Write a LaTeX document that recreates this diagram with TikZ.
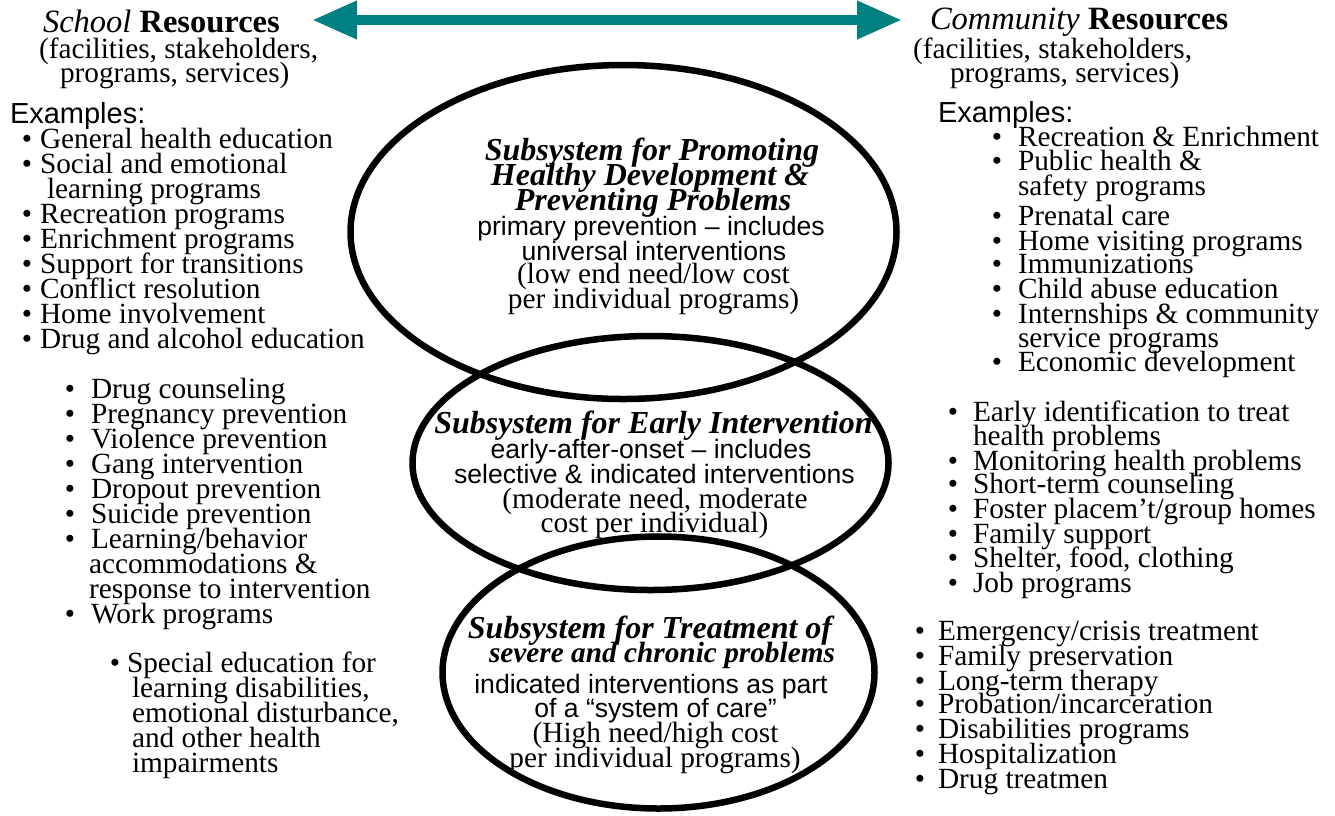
\documentclass[tikz,border=0pt]{standalone}
\usepackage{fontspec}
\setmainfont{Liberation Serif}
\newfontfamily\arialf{Liberation Sans}
\usetikzlibrary{arrows.meta}
\definecolor{tealA}{RGB}{0,128,128}
\begin{document}
\begin{tikzpicture}[x=1pt,y=-1pt,
  every node/.style={inner sep=0pt, outer sep=0pt, anchor=base west},
  body/.style={font=\fontsize{29.3}{25}\selectfont},
  bulletnode/.style={font=\fontsize{29.3}{25}\selectfont, anchor=base},
  headtxt/.style={font=\fontsize{32.5}{30}\selectfont},
  sanstxt/.style={font=\arialf\fontsize{26.6}{25}\selectfont, anchor=base},
  serifc/.style={font=\fontsize{29.3}{25}\selectfont, anchor=base},
  extxt/.style={font=\arialf\fontsize{29}{25}\selectfont},
  ttl/.style={font=\bfseries\itshape\fontsize{32}{25}\selectfont, anchor=base},
  ttlsmall/.style={font=\bfseries\itshape\fontsize{29.3}{25}\selectfont, anchor=base},
  ring/.style={draw=black, line width=6.5pt},
  bigarrow/.style={draw=tealA, line width=10pt,
     {Triangle[length=45pt,width=36pt]}-{Triangle[length=45pt,width=36pt]}}
]
\useasboundingbox (0,0) rectangle (1335,815);

% ---- ellipses ----
\draw[ring] (623.5,232) ellipse [x radius=273pt, y radius=167pt];
\draw[ring] (650.5,463) ellipse [x radius=238pt, y radius=127pt];
\draw[ring] (658.5,672.5) ellipse [x radius=216pt, y radius=136pt];

% ---- arrow ----
\coordinate (arL) at (312,20);
\coordinate (arR) at (902,20);
\draw[bigarrow] (arL) -- (arR);

% ---- school heading ----
\node[headtxt] (sh) at (43,32) {\textit{School} \textbf{Resources}};
\node[body] (sh2) at (39,58) {(facilities, stakeholders,};
\node[body] (sh3) at (60,82) {programs, services)};
\node[extxt] (sex) at (10,123) {Examples:};

% ---- community heading ----
\node[headtxt] (ch) at (930,29) {\textit{Community} \textbf{Resources}};
\node[body] (ch2) at (913,58) {(facilities, stakeholders,};
\node[body] (ch3) at (950,82) {programs, services)};
\node[extxt] (cex) at (938,122) {Examples:};

% ---- left list 1 ----
\foreach \x/\y/\t [count=\i] in {
  40/148/{General health education},
  40/173/{Social and emotional},
  47/198/{learning programs},
  40/223/{Recreation programs},
  40/248/{Enrichment programs},
  40/273/{Support for transitions},
  40/298/{Conflict resolution},
  40/323/{Home involvement},
  40/348/{Drug and alcohol education}}
  \node[body] (la\i) at (\x,\y) {\t};
\foreach \y [count=\i] in {148,173,223,248,273,298,323,348}
  \node[bulletnode] (lab\i) at (27,\y) {•};

% ---- left list 2 ----
\foreach \x/\y/\t [count=\i] in {
  91/398/{Drug counseling},
  91/423/{Pregnancy prevention},
  91/448/{Violence prevention},
  91/473/{Gang intervention},
  91/498/{Dropout prevention},
  91/523/{Suicide prevention},
  91/548/{Learning/behavior},
  89/573/{accommodations \&},
  89/598/{response to intervention},
  91/623/{Work programs}}
  \node[body] (lb\i) at (\x,\y) {\t};
\foreach \y [count=\i] in {398,423,448,473,498,523,548,623}
  \node[bulletnode] (lbb\i) at (70,\y) {•};

% ---- left list 3 ----
\foreach \x/\y/\t [count=\i] in {
  127/672/{Special education for},
  132/697/{learning disabilities,},
  132/722/{emotional disturbance,},
  132/747/{and other health},
  132/772/{impairments}}
  \node[body] (lc\i) at (\x,\y) {\t};
\node[bulletnode] (lcb1) at (115,672) {•};

% ---- right list 1 ----
\foreach \x/\y/\t [count=\i] in {
  1018/146/{Recreation \& Enrichment},
  1018/170/{Public health \&},
  1018/195/{safety programs},
  1018/225/{Prenatal care},
  1018/250/{Home visiting programs},
  1018/273/{Immunizations},
  1018/298/{Child abuse education},
  1018/323/{Internships \& community},
  1018/347/{service programs},
  1018/371/{Economic development}}
  \node[body] (ra\i) at (\x,\y) {\t};
\foreach \y [count=\i] in {146,170,225,250,273,298,323,371}
  \node[bulletnode] (rab\i) at (997,\y) {•};

% ---- right list 2 ----
\foreach \x/\y/\t [count=\i] in {
  973/421/{Early identification to treat},
  973/445/{health problems},
  973/470/{Monitoring health problems},
  973/493/{Short-term counseling},
  973/518/{Foster placem’t/group homes},
  973/543/{Family support},
  973/567/{Shelter, food, clothing},
  973/592/{Job programs}}
  \node[body] (rb\i) at (\x,\y) {\t};
\foreach \y [count=\i] in {421,470,493,518,543,567,592}
  \node[bulletnode] (rbb\i) at (953,\y) {•};

% ---- right list 3 ----
\foreach \x/\y/\t [count=\i] in {
  938/640/{Emergency/crisis treatment},
  938/665/{Family preservation},
  938/690/{Long-term therapy},
  938/713/{Probation/incarceration},
  938/738/{Disabilities programs},
  938/763/{Hospitalization},
  938/788/{Drug treatmen}}
  \node[body] (rc\i) at (\x,\y) {\t};
\foreach \y [count=\i] in {640,665,690,713,738,763,788}
  \node[bulletnode] (rcb\i) at (920,\y) {•};

% ---- ellipse 1 text ----
\node[ttl] (e1a) at (652,160) {Subsystem for Promoting};
\node[ttl] (e1b) at (650,185) {Healthy Development \&};
\node[ttl] (e1c) at (653,210) {Preventing Problems};
\node[sanstxt] (e1d) at (651,235) {primary prevention – includes};
\node[sanstxt] (e1e) at (654,260) {universal interventions};
\node[serifc] (e1f) at (653.5,283) {(low end need/low cost};
\node[serifc] (e1g) at (653.5,308) {per individual programs)};

% ---- ellipse 2 text ----
\node[ttl] (e2a) at (653.5,433) {Subsystem for Early Intervention};
\node[sanstxt] (e2b) at (651,458) {early-after-onset – includes};
\node[sanstxt] (e2c) at (654.5,483) {selective \& indicated interventions};
\node[serifc] (e2d) at (655,508) {(moderate need, moderate};
\node[serifc] (e2e) at (654.5,532) {cost per individual)};

% ---- ellipse 3 text ----
\node[ttl] (e3a) at (650,638) {Subsystem for Treatment of};
\node[ttlsmall] (e3b) at (662,662) {severe and chronic problems};
\node[sanstxt] (e3c) at (651,693) {indicated interventions as part};
\node[sanstxt] (e3d) at (655.5,717) {of a “system of care”};
\node[serifc] (e3e) at (655.5,742) {(High need/high cost};
\node[serifc] (e3f) at (655,767) {per individual programs)};
\end{tikzpicture}
\end{document}
